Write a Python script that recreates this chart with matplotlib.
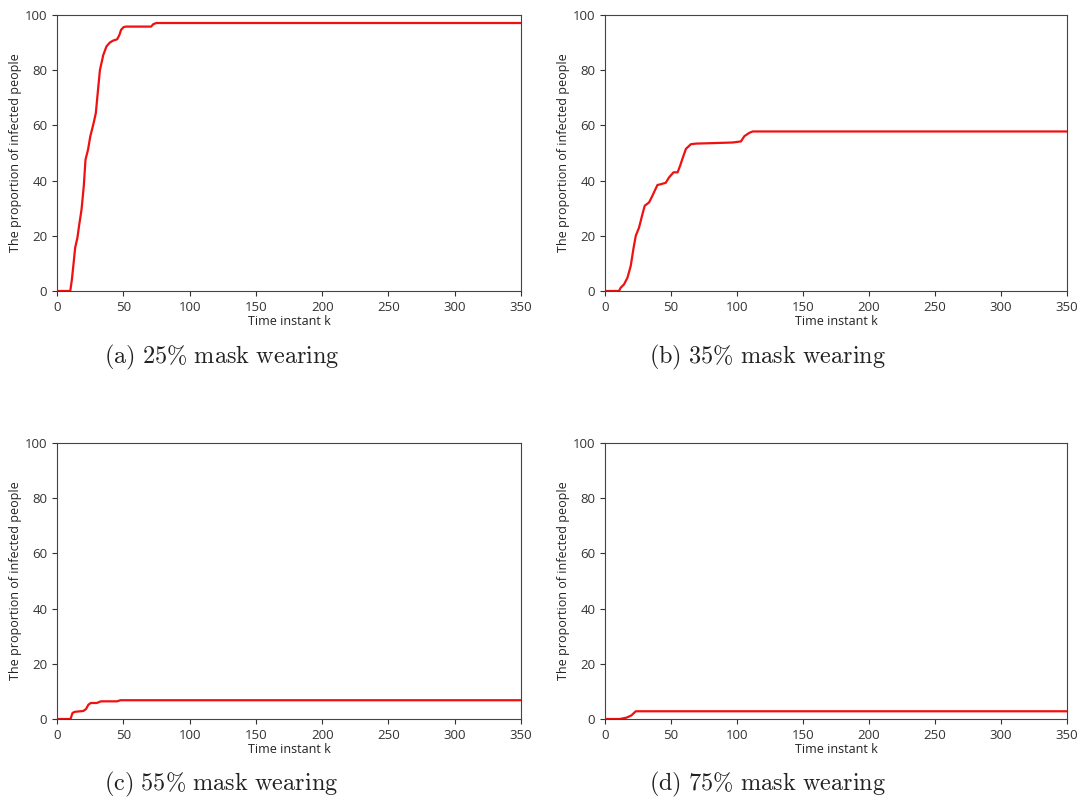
import matplotlib
matplotlib.use('Agg')
import matplotlib.pyplot as plt

plt.rcParams['mathtext.fontset'] = 'cm'

# (a) 25% mask wearing
xa = [0, 10, 11.2, 12.5, 13.7, 15.4, 16.6, 18.5, 20.2, 21.5, 23.4, 25.1, 27.6, 29.3, 30.7, 32.4,
      34.9, 37.3, 39.8, 42.2, 45.4, 47.1, 48.3, 50.2, 52, 71, 72.7, 75, 350]
ya = [0, 0, 4, 10, 15.7, 19.3, 23.5, 29.5, 38, 47.6, 51.2, 56, 60.8, 64.5, 71.7, 80.1,
      85.5, 88.6, 90, 90.7, 91.2, 92.8, 94.6, 95.6, 95.8, 95.8, 96.7, 97.1, 97.1]

# (b) 35% mask wearing
xb = [0, 10.6, 11.9, 14.4, 17, 19.5, 21.5, 23.3, 25.8, 28.4, 30.1, 33.4, 35.9, 39.7, 42.3,
      46, 48.6, 51.9, 55, 57, 58.8, 61.3, 65.1, 68.9, 82.8, 96.7, 103, 105.6, 109.3, 111.9, 350]
yb = [0, 0, 1.2, 2.4, 4.8, 9.1, 15.2, 20, 23, 27.9, 30.9, 32.1, 34.5, 38.4, 38.7,
      39.2, 41.2, 43, 43, 45.5, 48.1, 51.5, 53.2, 53.4, 53.6, 53.8, 54.2, 56.1, 57.3, 57.8, 57.8]

# (c) 55% mask wearing
xc = [0, 10.2, 11.7, 13.5, 19.8, 21.9, 23.7, 25.5, 30, 33.1, 45.3, 47.9, 350]
yc = [0, 0, 2.2, 2.6, 2.9, 3.6, 5.2, 5.8, 5.8, 6.4, 6.4, 6.8, 6.8]

# (d) 75% mask wearing
xd = [0, 11.2, 16.3, 20, 23.3, 350]
yd = [0, 0, 0.5, 1.3, 2.8, 2.8]

captions = [r'$\mathrm{(a)\ 25\%\ mask\ wearing}$', r'$\mathrm{(b)\ 35\%\ mask\ wearing}$',
            r'$\mathrm{(c)\ 55\%\ mask\ wearing}$', r'$\mathrm{(d)\ 75\%\ mask\ wearing}$']

fig = plt.figure(figsize=(10.89, 7.97), dpi=100)

W, H = 1089, 797
boxes = [(57, 15, 521, 291), (605, 15, 1067, 291), (57, 443, 521, 719), (605, 443, 1067, 719)]
cap_pos = [(104, 357), (649, 357), (104, 784), (649, 784)]
data = [(xa, ya), (xb, yb), (xc, yc), (xd, yd)]

for (l, t, r, b), (x, y), cap, (cx, cy) in zip(boxes, data, captions, cap_pos):
    ax = fig.add_axes([l / W, 1 - b / H, (r - l) / W, (b - t) / H])
    ax.plot(x, y, color='#f01010', linewidth=1.6)
    ax.set_xlim(0, 350)
    ax.set_ylim(0, 100)
    ax.set_xticks(range(0, 351, 50))
    ax.set_yticks(range(0, 101, 20))
    for s in ax.spines.values():
        s.set_color('#444444')
    ax.tick_params(labelsize=9.5, colors='#333333', length=3.5)
    for lab in ax.get_xticklabels() + ax.get_yticklabels():
        lab.set_family('Open Sans')
    ax.set_xlabel('Time instant k', fontsize=9, family='Open Sans', color='#222222', labelpad=1)
    ax.set_ylabel('The proportion of infected people', fontsize=9, family='Open Sans',
                  color='#222222', labelpad=2)
    fig.text(cx / W, 1 - cy / H, cap, fontsize=17.5, ha='left', va='center', color='#222222')

fig.savefig('out.png', dpi=100)
